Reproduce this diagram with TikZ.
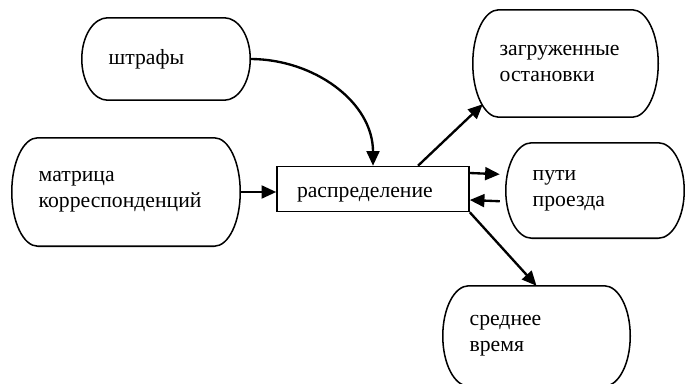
\documentclass[tikz,border=0pt]{standalone}
\usepackage{fontspec}
\setmainfont{Liberation Serif}
\usetikzlibrary{arrows.meta,calc}
\begin{document}
\begin{tikzpicture}[x=0.03cm,y=0.03cm,
    font=\fontsize{18.5}{22}\selectfont,
    box/.style={inner xsep=0.8cm,inner ysep=0pt,align=left},
    edge/.style={line width=1.3pt},
    link/.style={line width=2pt,-{Triangle[length=12.5pt,width=11pt]}}]
  \useasboundingbox (0,0) rectangle (685,383);
  \node[box,minimum width=5.04cm,minimum height=2.46cm,text width=3.44cm] (shtraf) at (166,324) {штрафы};
  \node[box,minimum width=6.84cm,minimum height=3.24cm,text width=5.24cm] (matr) at (126,191) {матрица\\корреспонденций};
  \node[draw,edge,minimum width=5.76cm,minimum height=1.35cm,inner xsep=0.6cm,text width=4.56cm,
        text height=15pt,text depth=0pt,align=left] (raspr) at (373,194) {распределение};
  \node[box,minimum width=5.55cm,minimum height=3.21cm,text width=3.95cm] (zagr) at (565.5,319.5) {загруженные\\остановки};
  \node[box,minimum width=5.34cm,minimum height=2.85cm,text width=3.74cm] (puti) at (595,192.5) {пути\\проезда};
  \node[box,minimum width=5.61cm,minimum height=3cm,text width=4.01cm] (sred) at (536.5,47) {среднее\\время};
  % outlines with elliptic sides
  \foreach \b in {shtraf,matr,zagr,puti,sred}
    \draw[edge] let \p1=($(\b.north)-(\b.center)$) in
      ($(\b.north west)+(26,0)$) -- ($(\b.north east)+(-26,0)$)
      arc[start angle=90,end angle=-90,x radius=0.78cm,y radius=\y1]
      -- ($(\b.south west)+(26,0)$)
      arc[start angle=270,end angle=90,x radius=0.78cm,y radius=\y1] -- cycle;
  \draw[link] (shtraf.east) to[out=0,in=90] (raspr.north);
  \draw[link] (matr.east) -- (matr.east -| raspr.west);
  \draw[link] ($(raspr.north)+(45,0)$) -- ($(zagr.south west)+(10,13)$);
  \draw[link,shorten >=0.18cm] ($(raspr.east)+(0,16)$) -- ($(puti.west)+(0,16)$);
  \draw[link,shorten <=0.18cm] ($(puti.west)+(0,-11)$) -- ($(raspr.east)+(0,-11)$);
  \draw[link] (raspr.south east) -- (sred.north);
\end{tikzpicture}
\end{document}
